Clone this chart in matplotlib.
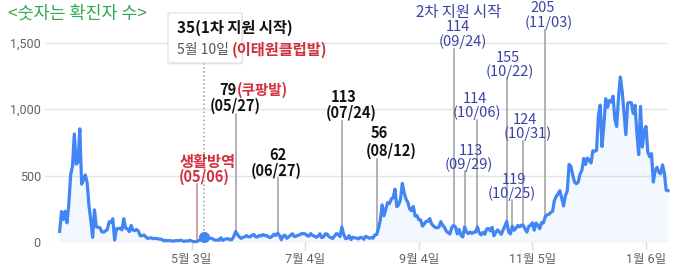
import matplotlib
matplotlib.use("Agg")
import matplotlib.pyplot as plt
from matplotlib.patches import FancyBboxPatch
import numpy as np
import pandas as pd

plt.rcParams['font.family'] = ['Noto Sans CJK KR', 'DejaVu Sans']

# ---------------- data (daily confirmed cases) ----------------
start_date = "2020-02-21"
feb = [80, 229, 169, 231, 144, 284, 505, 571, 813]
mar = [586, 599, 851, 435, 467, 505, 448, 273, 164, 35, 242, 114, 110, 107, 76, 74, 84, 93, 152, 147,
       175, 15, 100, 100, 104, 91, 175, 105, 100, 78, 125]
apr = [89, 86, 94, 81, 47, 47, 53, 39, 27, 30, 32, 25, 27, 27, 22, 22, 18, 8, 13, 9,
       11, 8, 6, 10, 10, 10, 14, 9, 4, 9]
may = [6, 13, 8, 3, 2, 4, 12, 18, 34, 35, 27, 26, 29, 27, 19, 13, 15, 13, 32, 12,
       20, 23, 25, 16, 19, 40, 79, 58, 39, 27, 35]
jun = [38, 49, 39, 39, 51, 57, 38, 38, 50, 45, 56, 48, 49, 37, 34, 43, 59, 49, 67, 48,
       17, 46, 51, 28, 39, 51, 62, 42, 43, 51]
jul = [54, 63, 63, 61, 48, 44, 63, 50, 45, 35, 44, 62, 33, 39, 61, 60, 39, 34, 26, 45,
       63, 59, 41, 113, 58, 25, 28, 48, 18, 36, 31]
aug = [30, 23, 34, 33, 20, 43, 36, 28, 34, 28, 54, 56, 103, 166, 279, 197, 246, 297, 288, 324,
       332, 397, 266, 280, 320, 441, 371, 323, 299, 248, 235]
sep = [267, 195, 198, 168, 167, 119, 136, 156, 155, 176, 136, 121, 109, 106, 113, 153, 126, 110, 82, 70,
       61, 110, 125, 114, 61, 95, 50, 38, 113, 77]
oct_ = [63, 75, 64, 73, 75, 114, 69, 54, 72, 58, 97, 102, 84, 110, 47, 73, 91, 76, 58, 91,
        121, 155, 77, 61, 119, 88, 103, 125, 114, 127, 124]
nov = [97, 75, 118, 125, 145, 89, 143, 126, 100, 146, 143, 191, 205, 208, 223, 230, 313, 343, 363, 386,
       330, 271, 349, 382, 583, 569, 504, 450, 438, 451]
dec = [511, 540, 629, 583, 631, 615, 594, 686, 682, 689, 950, 1030, 718, 880, 1078, 1014, 1064, 1053, 1097, 926,
       869, 1092, 1241, 1132, 970, 807, 1045, 1050, 1046, 967, 1029]
jan = [824, 657, 1020, 714, 838, 869, 674, 641, 665, 451, 537, 562, 524, 513, 580, 520, 389, 386]

x_tick_dates = ["2020-05-03", "2020-07-04", "2020-09-04", "2020-11-05", "2021-01-06"]
x_tick_labels = ["5월 3일", "7월 4일", "9월 4일", "11월 5일", "1월 6일"]
y_ticks = [0, 500, 1000, 1500]
y_tick_labels = ["0", "500", "1,000", "1,500"]

title = "<숫자는 확진자 수>"
# annotation events (date where the guide line meets the curve)
event_dates = ["2020-05-06", "2020-05-10", "2020-05-27", "2020-06-19", "2020-07-24", "2020-08-12",
               "2020-09-23", "2020-09-29", "2020-10-06", "2020-10-22", "2020-10-25", "2020-10-31",
               "2020-11-12"]

values = feb + mar + apr + may + jun + jul + aug + sep + oct_ + nov + dec + jan
dates = pd.date_range(start_date, periods=len(values), freq="D")
series = pd.Series(values, index=dates)

# ---------------- figure ----------------
W, H = 680, 279
fig = plt.figure(figsize=(W / 100, H / 100), dpi=100)
Y0 = 242  # pixel row of the zero line
YMAX = 1820
ax = fig.add_axes([45 / W, (H - Y0) / H, 623 / W, Y0 / H])
ax.set_xlim(pd.Timestamp("2020-02-13"), pd.Timestamp("2021-01-18"))
ax.set_ylim(0, YMAX)

BLUE = "#4285f4"
ax.fill_between(series.index, series.values, 0, color=BLUE, alpha=0.06, lw=0, zorder=2)
ax.plot(series.index, series.values, color=BLUE, lw=2.3, zorder=4, clip_on=False,
        solid_joinstyle="round")

for s in ax.spines.values():
    s.set_visible(False)
ax.set_yticks(y_ticks)
ax.set_yticklabels(y_tick_labels)
ax.grid(axis="y", color="#e4e4e4", lw=1)
ax.set_axisbelow(True)
ax.tick_params(axis="y", length=0, pad=3, labelcolor="#5f6368", labelsize=9)
ax.set_xticks([pd.Timestamp(d) for d in x_tick_dates])
ax.set_xticklabels(x_tick_labels)
ax.tick_params(axis="x", length=6, color="#dadce0", width=1, pad=2, labelcolor="#5f6368", labelsize=9)
for lab in ax.get_xticklabels() + ax.get_yticklabels():
    lab.set_fontfamily(['Roboto', 'Noto Sans CJK KR'])


def px2val(y):
    return (Y0 - y) * YMAX / Y0


def t(x, y, s, color, weight="bold", size=10.5, ha="center"):
    fig.text(x / W, 1 - y / H, s, color=color, fontsize=size, fontweight=weight,
             ha=ha, va="center", zorder=5)


GRAY = "#9e9e9e"
RED = "#d0313d"
BLACK = "#111111"
NAVY = "#3c42a4"

# guide lines
line_tops = [184, 63, 114, 178, 121, 159, 49, 171, 120, 78, 200, 141, 30]
line_colors = ["#c48a8a", GRAY, GRAY, GRAY, GRAY, GRAY, GRAY, GRAY, GRAY, GRAY, GRAY, GRAY, GRAY]
line_styles = ["-", ":", "-", "-", "-", "-", "-", "-", "-", "-", "-", "-", "-"]
for d, top, c, ls in zip(event_dates, line_tops, line_colors, line_styles):
    dt = pd.Timestamp(d)
    ax.plot([dt, dt], [px2val(top), series[dt]], color=c, lw=1.1, ls=ls, zorder=3,
            clip_on=False)

# highlighted point (May 10)
hd = pd.Timestamp(event_dates[1])
ax.plot([hd], [series[hd]], "o", color=BLUE, ms=7, zorder=5, clip_on=False)

# tooltip box
shadow = FancyBboxPatch((169 / W, 1 - 64.5 / H), 74 / W, 50 / H,
                        boxstyle="round,pad=0,rounding_size=0.004",
                        transform=fig.transFigure, facecolor="#000000", alpha=0.08,
                        edgecolor="none", zorder=1.5)
box = FancyBboxPatch((168 / W, 1 - 63 / H), 74 / W, 50 / H,
                     boxstyle="round,pad=0,rounding_size=0.004",
                     transform=fig.transFigure, facecolor="white",
                     edgecolor="#dddddd", lw=0.8, zorder=2)
fig.patches.extend([shadow, box])

# title
fig.text(8 / W, 1 - 14 / H, title, color="#34a853", fontsize=12.5, ha="left", va="center",
         zorder=5)

# tooltip texts
t(177, 28, "35(1차 지원 시작)", BLACK, size=11, ha="left")
t(177, 50, "5월 10일", "#555555", weight="normal", size=10, ha="left")
t(232, 50, "(이태원클럽발)", RED, size=11, ha="left")

# black/red annotations
t(208, 162, "생활방역", RED, size=11)
t(204.5, 177, "(05/06)", RED)
t(228, 90, "79", BLACK)
t(237, 90, "(쿠팡발)", RED, ha="left")
t(235, 106, "(05/27)", BLACK)
t(278, 155, "62", BLACK)
t(276, 171, "(06/27)", BLACK)
t(344, 97, "113", BLACK)
t(351.5, 113, "(07/24)", BLACK)
t(379, 133, "56", BLACK)
t(391.5, 151, "(08/12)", BLACK)

# blue annotations
t(459, 13, "2차 지원 시작", NAVY, weight="normal", size=11)
t(457.5, 27, "114", NAVY, weight="normal")
t(463, 42, "(09/24)", NAVY, weight="normal")
t(543, 8, "205", NAVY, weight="normal")
t(549, 23, "(11/03)", NAVY, weight="normal")
t(508, 58, "155", NAVY, weight="normal")
t(510, 72, "(10/22)", NAVY, weight="normal")
t(475, 99, "114", NAVY, weight="normal")
t(476.7, 113, "(10/06)", NAVY, weight="normal")
t(525, 120, "124", NAVY, weight="normal")
t(528, 134, "(10/31)", NAVY, weight="normal")
t(471, 151, "113", NAVY, weight="normal")
t(469, 165, "(09/29)", NAVY, weight="normal")
t(514, 180, "119", NAVY, weight="normal")
t(512, 194, "(10/25)", NAVY, weight="normal")

fig.savefig("out.png", dpi=100)
